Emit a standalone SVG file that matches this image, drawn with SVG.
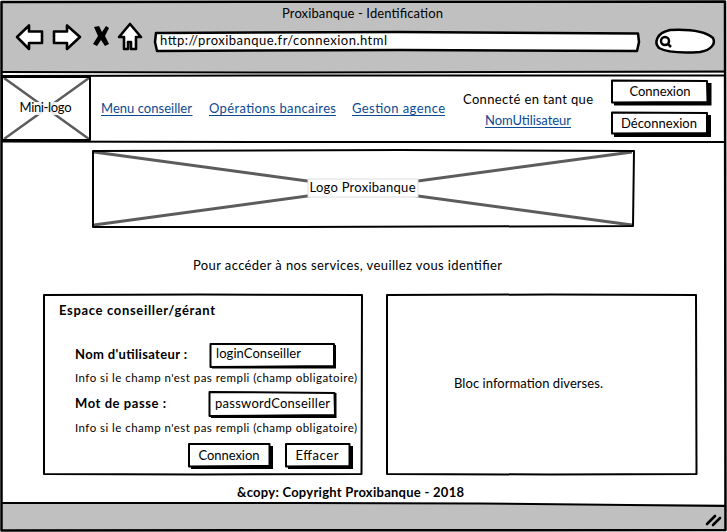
<svg xmlns="http://www.w3.org/2000/svg" width="727" height="532" viewBox="0 0 727 532">
<style>
text{font-family:"Lato","Noto Sans",sans-serif;font-size:13px;fill:#000}
.b{font-weight:700}
.l{fill:#0b4a94}
.lu{stroke:#0b4a94;stroke-width:1.2;fill:none}
.o{fill:none;stroke:#000;stroke-width:2;stroke-linejoin:round}
.w{fill:#fff;stroke:#000;stroke-width:2;stroke-linejoin:round}
.x{stroke:#5c5c5c;stroke-width:2.5;fill:none}
.i{fill:#fff;stroke:#000;stroke-width:2.6;stroke-linejoin:round}
.s{fill:#000}
.m{text-anchor:middle}
</style>
<rect width="727" height="532" fill="#fff"/>
<g id="browser-window">
<rect x="2" y="2" width="723" height="71" fill="#c0c0c0"/>
<rect x="2" y="504" width="723" height="26" fill="#c0c0c0"/>
<path class="o" style="stroke-width:2.5" d="M1.5 2L725 1.500L725.500 530L1.500 530.500Z"/>
<path class="o" d="M2 72L300 72.500L725 71.500M2 503L300 503L480 503.500L725 506"/>
<text class="m" x="362.500" y="18" textLength="161">Proxibanque - Identification</text>
<path class="i" d="M17 37L29 25.500V31.500H42V43H29V49Z"/>
<path class="i" d="M80 37L67 25.500V31.500H54V43H67V49Z"/>
<path class="s" d="M94 27L99 26L102 32L106 26L109 28L105 36L109 44L105 46L101 40L97 46L93 44L98 36Z"/>
<path class="i" d="M130 24L141 37H136V49H131V42H128V49H124V37H119Z"/>
<path class="w" style="stroke-width:2.500" d="M156 33L400 32L638 33.500L639 42L637 51L400 50L157 51L155 42Z"/>
<text x="160" y="45" textLength="227">http://proxibanque.fr/connexion.html</text>
<path class="w" style="stroke-width:2.500" d="M670 30C690 29 706 32 713 38C716 44 711 50 700 52C685 53 668 53 659 48C654 43 656 33 670 30Z"/>
<circle cx="665" cy="41" r="4" fill="none" stroke="#000" stroke-width="2.500"/>
<path d="M668 44L671 47" stroke="#000" stroke-width="2.500"/>
<path d="M707 524L715 516M713 525L720 518" stroke="#000" stroke-width="2.600" stroke-linecap="round" fill="none"/>
</g>
<g id="header-bar">
<path class="o" d="M2 76L300 75.500L724 75.500M2 141.500L300 142L725 142"/>
</g>
<g id="mini-logo">
<path class="x" d="M4 78L89 139M89 78L4 139"/>
<rect x="2" y="102" width="88" height="13" fill="#fff" fill-opacity="0.88"/>
<path class="o" d="M2 77L90 77L90 140L2 140Z"/>
<text class="m" x="45.500" y="112" textLength="52">Mini-logo</text>
</g>
<g id="nav-menu-conseiller">
<text class="l" x="101" y="113" textLength="91">Menu conseiller</text>
<path class="lu" d="M101 115.500H192.500"/>
</g>
<g id="nav-operations">
<text class="l" x="209" y="113" textLength="127">Opérations bancaires</text>
<path class="lu" d="M209 115.500H336"/>
</g>
<g id="nav-gestion">
<text class="l" x="352" y="113" textLength="93">Gestion agence</text>
<path class="lu" d="M352 115.500H445"/>
</g>
<g id="user-status">
<text x="463" y="104" textLength="130">Connecté en tant que</text>
<text class="l" x="485" y="125" textLength="86">NomUtilisateur</text>
<path class="lu" d="M485 127.500H571"/>
</g>
<g id="btn-connexion-top">
<path class="s" d="M614 83H711.500V105.500H614Z"/>
<path class="w" d="M612 80.500L707 81L707.500 102L612 102.500Z"/>
<text class="m" x="660" y="96" textLength="61">Connexion</text>
</g>
<g id="btn-deconnexion">
<path class="s" d="M614 115H711V137H614Z"/>
<path class="w" d="M612 112.500L707 113L707 133L612 133.500Z"/>
<text class="m" x="659" y="128" textLength="76">Déconnexion</text>
</g>
<g id="logo-proxibanque">
<rect x="93" y="151" width="540" height="76" fill="#fff"/>
<path class="x" style="stroke-width:3" d="M94 152L632 225M632 152L94 225"/>
<rect x="308" y="179" width="110" height="18" fill="#fff" stroke="#ddd"/>
<path class="o" d="M93 151L400 150L634 151L633 226L300 227L93 227Z"/>
<text class="m" x="362.500" y="192" textLength="106">Logo Proxibanque</text>
</g>
<g id="intro-text">
<text x="193" y="270" textLength="309">Pour accéder à nos services, veuillez vous identifier</text>
</g>
<g id="panel-conseiller">
<path class="o" d="M44 295L200 294.500L362 295L361.500 474L200 474.500L44 474Z"/>
<text class="b" x="59" y="315" textLength="156">Espace conseiller/gérant</text>
<text class="b" x="75" y="359" textLength="112">Nom d'utilisateur :</text>
<path class="s" d="M212 345H336V368.500H212Z"/>
<path class="w" d="M210.500 344L334 344L334 366L210.500 367Z"/>
<text x="216" y="358" textLength="85">loginConseiller</text>
<text style="font-size:11.500px" x="75" y="382" textLength="282">Info si le champ n'est pas rempli (champ obligatoire)</text>
<text class="b" x="75" y="408" textLength="91">Mot de passe :</text>
<path class="s" d="M211 393H336.500V418H211Z"/>
<path class="w" d="M209.500 392L334.500 393L335 415L209.500 416Z"/>
<text x="215" y="408" textLength="115">passwordConseiller</text>
<text style="font-size:11.500px" x="75" y="432" textLength="282">Info si le champ n'est pas rempli (champ obligatoire)</text>
</g>
<g id="btn-connexion">
<path class="s" d="M191 446H273V469H191Z"/>
<path class="w" d="M189 444L269.500 444L269.500 466L189 466.500Z"/>
<text class="m" x="229" y="460" textLength="61">Connexion</text>
</g>
<g id="btn-effacer">
<path class="s" d="M288 446H353V469H288Z"/>
<path class="w" d="M286 444L349.500 444L349.500 466L286 466.500Z"/>
<text class="m" x="317" y="460" textLength="43">Effacer</text>
</g>
<g id="panel-info">
<path class="o" d="M387 295L550 294.500L696 295L696.500 474L550 474.500L387 474Z"/>
<text x="454" y="388" textLength="149">Bloc information diverses.</text>
</g>
<g id="footer">
<text class="b" x="237" y="497" textLength="227">&amp;copy: Copyright Proxibanque - 2018</text>
</g>
<g id="connectors"/>
</svg>
